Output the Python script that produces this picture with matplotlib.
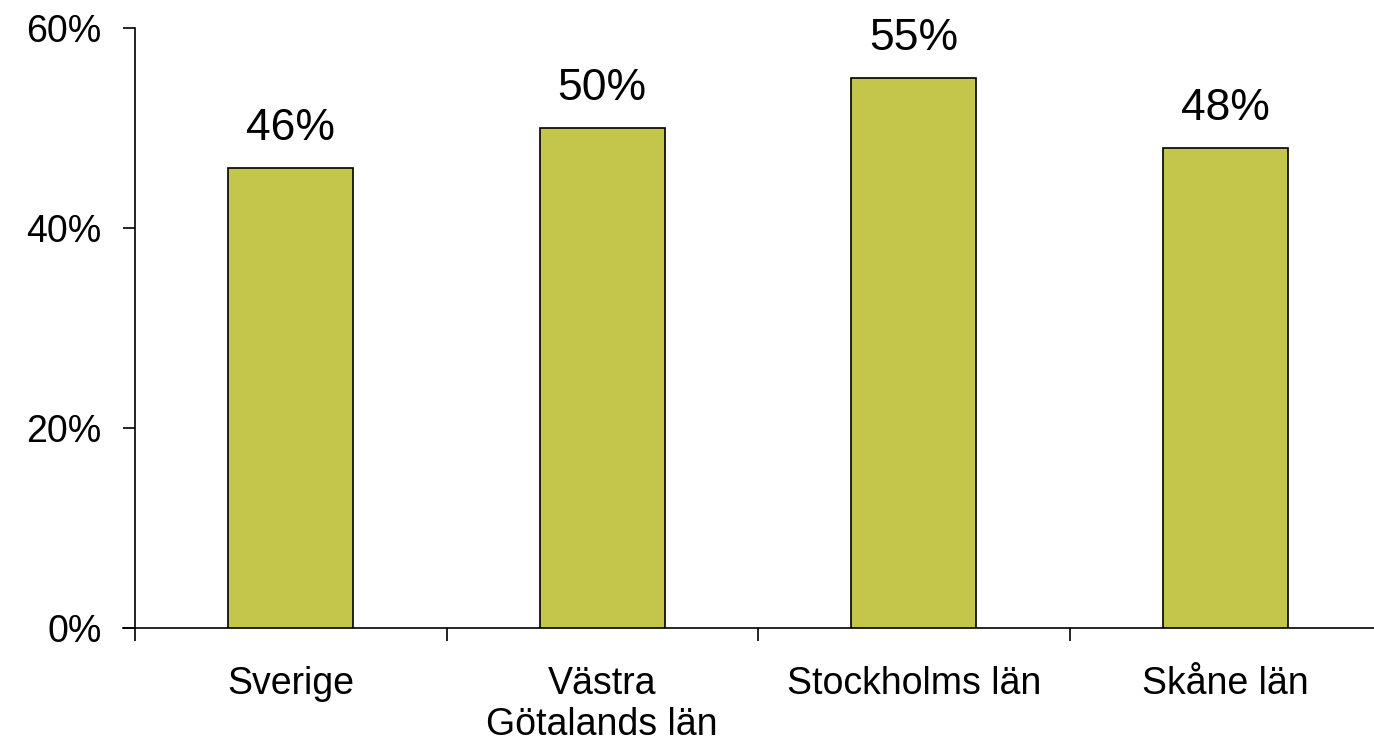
import matplotlib
matplotlib.use("Agg")
import matplotlib.pyplot as plt
import numpy as np

categories = ["Sverige", "Västra\nGötalands län", "Stockholms län", "Skåne län"]
values = [46, 50, 55, 48]
yticks = [0, 20, 40, 60]

plt.rcParams['font.family'] = ['Liberation Sans', 'DejaVu Sans']

fig = plt.figure(figsize=(13.74, 7.42), dpi=100)
ax = fig.add_axes([135/1374, 1-628/742, (1381-135)/1374, (628-28)/742])

x = np.arange(len(categories)) + 0.5
bars = ax.bar(x, values, width=0.4, color="#C4C64C", edgecolor="black", linewidth=1.2, zorder=3)
for xi, v in zip(x, values):
    ax.annotate(f"{v}%", (xi, v), xytext=(0, 20), textcoords="offset points",
                ha="center", va="baseline", fontsize=32)

ax.set_xlim(0, len(categories))
ax.set_ylim(0, 60)
ax.set_yticks(yticks)
ax.set_yticklabels([f"{t}%" for t in yticks], fontsize=27)
ax.set_xticks(np.arange(len(categories) + 1))
ax.set_xticklabels([])
ax.set_xticks(x, minor=True)
ax.set_xticklabels(categories, minor=True, fontsize=27, linespacing=1.2, va="top")
ax.tick_params(axis="x", which="minor", length=0, pad=27)
ax.tick_params(axis="x", which="major", length=9, width=1.2, direction="out")
ax.tick_params(axis="y", length=9, width=1.2, direction="out", pad=15)
for s in ["top", "right"]:
    ax.spines[s].set_visible(False)
for s in ["left", "bottom"]:
    ax.spines[s].set_linewidth(1.2)
ax.spines["bottom"].set_bounds(-0.04, len(categories))

fig.savefig("out.png", dpi=100)
